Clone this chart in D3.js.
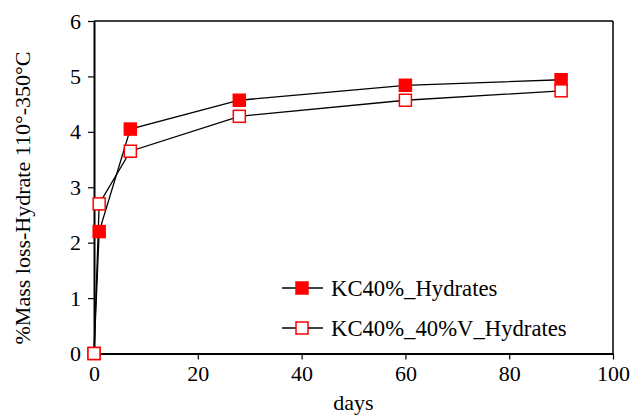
<!DOCTYPE html>
<html><head><meta charset="utf-8">
<script src="https://cdn.jsdelivr.net/npm/d3@7"></script>
<style>body{margin:0;background:#fff}svg{display:block}</style>
</head><body><svg id="c" width="630" height="417"></svg>
<script>
const days = [0, 1, 7, 28, 60, 90];
const kc40 = [0, 2.2, 4.05, 4.57, 4.84, 4.94];
const kc40v = [0, 2.7, 3.65, 4.28, 4.57, 4.74];
const seriesNames = ["KC40%_Hydrates", "KC40%_40%V_Hydrates"];
const xTicks = [0, 20, 40, 60, 80, 100];
const yTicks = [0, 1, 2, 3, 4, 5, 6];

const FONT = "Liberation Serif";
const svg = d3.select("#c");
const L = 94, R = 613, T = 21, B = 353.5;
const x = d3.scaleLinear().domain([0, 100]).range([L, R]);
const y = d3.scaleLinear().domain([0, 6]).range([B, T]);

svg.append("line").attr("x1", L).attr("x2", R).attr("y1", T).attr("y2", T).attr("stroke", "#000").attr("stroke-width", 1.5);
svg.append("line").attr("x1", R).attr("x2", R).attr("y1", T).attr("y2", B).attr("stroke", "#000").attr("stroke-width", 1.5);

const xa = svg.append("g").attr("transform", `translate(0,${B})`)
  .call(d3.axisBottom(x).tickValues(xTicks).tickFormat(d3.format("d")).tickSize(6).tickPadding(6).tickSizeOuter(0));
const ya = svg.append("g").attr("transform", `translate(${L},0)`)
  .call(d3.axisLeft(y).tickValues(yTicks).tickFormat(d3.format("d")).tickSize(6).tickPadding(7).tickSizeOuter(0));
[xa, ya].forEach(g => {
  g.select(".domain").attr("stroke", "#000").attr("stroke-width", 2);
  g.selectAll(".tick line").attr("stroke", "#000").attr("stroke-width", 1.2);
  g.selectAll(".tick text").attr("fill", "#000").attr("font-family", FONT).attr("font-size", 22);
});

svg.append("text").attr("x", x(50)).attr("y", 410).attr("text-anchor", "middle")
  .attr("font-family", FONT).attr("font-size", 22).text("days");
svg.append("text").attr("transform", `translate(30,198) rotate(-90)`).attr("text-anchor", "middle")
  .attr("font-family", FONT).attr("font-size", 22).text("%Mass loss-Hydrate 110°-350°C");

const line = d3.line().x(d => x(d[0])).y(d => y(d[1]));
const data = [days.map((d, i) => [d, kc40[i]]), days.map((d, i) => [d, kc40v[i]])];
const fills = ["#ff0000", "#ffffff"];
const s = 12;
data.forEach(pts => {
  svg.append("path").datum(pts).attr("d", line).attr("fill", "none").attr("stroke", "#000").attr("stroke-width", 1.3);
});
data.forEach((pts, k) => {
  svg.selectAll(null).data(pts).enter().append("rect")
    .attr("x", d => x(d[0]) - s / 2).attr("y", d => y(d[1]) - s / 2).attr("width", s).attr("height", s)
    .attr("fill", fills[k]).attr("stroke", "#ff0000").attr("stroke-width", 1.5);
});

const lg = svg.append("g");
seriesNames.forEach((n, k) => {
  const ly = 288 + k * 40;
  lg.append("line").attr("x1", 282).attr("x2", 323).attr("y1", ly).attr("y2", ly).attr("stroke", "#000").attr("stroke-width", 1.3);
  lg.append("rect").attr("x", 302 - s / 2).attr("y", ly - s / 2).attr("width", s).attr("height", s)
    .attr("fill", fills[k]).attr("stroke", "#ff0000").attr("stroke-width", 1.5);
  lg.append("text").attr("x", 331).attr("y", ly + 8).attr("font-family", FONT).attr("font-size", 22.7).text(n);
});
</script></body></html>
